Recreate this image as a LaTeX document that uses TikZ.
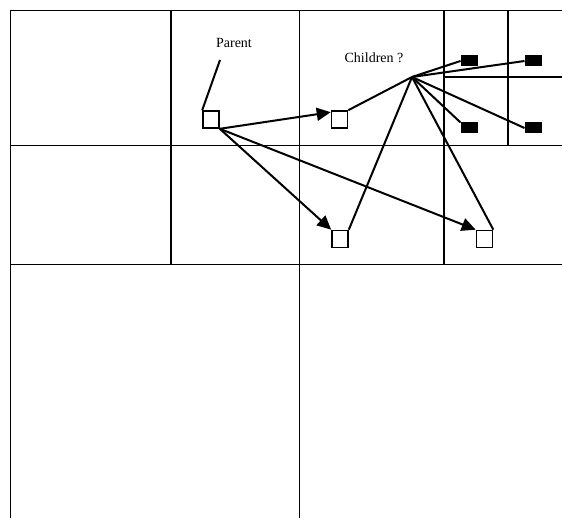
\documentclass[tikz,border=0pt]{standalone}
\usepackage{fontspec}
\setmainfont{Liberation Serif}
\usetikzlibrary{arrows.meta}
\begin{document}
\begin{tikzpicture}[x=1pt,y=-1pt,
  gridline/.style={line width=1.8pt},
  cell/.style={draw,line width=1.6pt,fill=white,minimum width=16pt,minimum height=17pt,inner sep=0pt},
  leaf/.style={draw,line width=1pt,fill=black,minimum width=16pt,minimum height=10pt,inner sep=0pt},
  link/.style={line width=2pt},
  push/.style={line width=2pt,-{Triangle[length=14pt,width=13pt]}},
  tag/.style={font=\fontsize{14}{16}\selectfont,inner sep=0pt}]
\useasboundingbox (0,0) rectangle (562,518);
% quadtree cells
\draw[gridline] (10.5,518) -- (10.5,10.5) -- (562,10.5);
\draw[gridline] (10.5,145.5) -- (562,145.5);
\draw[gridline] (10.5,264.5) -- (562,264.5);
\draw[gridline] (171,10.5) -- (171,264.5);
\draw[gridline] (299.5,10.5) -- (299.5,518);
\draw[gridline] (444,10.5) -- (444,264.5);
\draw[gridline] (508,10.5) -- (508,145.5);
\draw[gridline] (444,77) -- (562,77);
% labels
\node[tag] (plabel) at (234,43) {Parent};
\node[tag] (clabel) at (374,58) {Children ?};
\coordinate (ptag) at (220,60);
\coordinate (hub) at (412,77);
% parent and children
\node[cell] (p) at (211,119.5) {};
\node[cell] (c1) at (339.5,119.5) {};
\node[cell] (c2) at (340,239) {};
\node[cell] (c3) at (484.5,239) {};
% deeper leaves
\node[leaf] (fa) at (469,61) {};
\node[leaf] (fb) at (533,61) {};
\node[leaf] (fc) at (469,128) {};
\node[leaf] (fd) at (533,128) {};
% connectors
\draw[link] (ptag) -- (p.north west);
\draw[push] (p.south east) -- ([yshift=-2pt]c1.north west);
\draw[push] (p.south east) -- (c2.north west);
\draw[push] (p.south east) -- (c3.north west);
\draw[link] (hub) -- (c1.north east);
\draw[link] (hub) -- (c2.north east);
\draw[link] (hub) -- (c3.north east);
\draw[link] (hub) -- (fa.west);
\draw[link] (hub) -- (fb.west);
\draw[link] (hub) -- (fc.north west);
\draw[link] (hub) -- (fd.west);
\end{tikzpicture}
\end{document}
